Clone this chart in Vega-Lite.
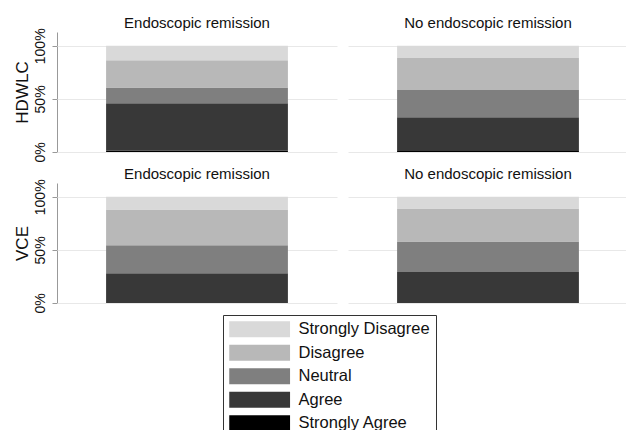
{
  "$schema": "https://vega.github.io/schema/vega-lite/v6.json",
  "background": "white",
  "padding": {"top": 15, "left": 13, "right": 0, "bottom": 0},
  "datasets": {
    "d": [
      {"modality": "HDWLC", "remission": "Endoscopic remission", "response": "Strongly Agree", "o": 1, "pct": 1.3},
      {"modality": "HDWLC", "remission": "Endoscopic remission", "response": "Agree", "o": 2, "pct": 44.6},
      {"modality": "HDWLC", "remission": "Endoscopic remission", "response": "Neutral", "o": 3, "pct": 14.8},
      {"modality": "HDWLC", "remission": "Endoscopic remission", "response": "Disagree", "o": 4, "pct": 25.8},
      {"modality": "HDWLC", "remission": "Endoscopic remission", "response": "Strongly Disagree", "o": 5, "pct": 13.5},
      {"modality": "HDWLC", "remission": "No endoscopic remission", "response": "Strongly Agree", "o": 1, "pct": 0.9},
      {"modality": "HDWLC", "remission": "No endoscopic remission", "response": "Agree", "o": 2, "pct": 31.8},
      {"modality": "HDWLC", "remission": "No endoscopic remission", "response": "Neutral", "o": 3, "pct": 25.8},
      {"modality": "HDWLC", "remission": "No endoscopic remission", "response": "Disagree", "o": 4, "pct": 29.9},
      {"modality": "HDWLC", "remission": "No endoscopic remission", "response": "Strongly Disagree", "o": 5, "pct": 11.6},
      {"modality": "VCE", "remission": "Endoscopic remission", "response": "Strongly Agree", "o": 1, "pct": 0},
      {"modality": "VCE", "remission": "Endoscopic remission", "response": "Agree", "o": 2, "pct": 27.9},
      {"modality": "VCE", "remission": "Endoscopic remission", "response": "Neutral", "o": 3, "pct": 26.4},
      {"modality": "VCE", "remission": "Endoscopic remission", "response": "Disagree", "o": 4, "pct": 33.7},
      {"modality": "VCE", "remission": "Endoscopic remission", "response": "Strongly Disagree", "o": 5, "pct": 12.0},
      {"modality": "VCE", "remission": "No endoscopic remission", "response": "Strongly Agree", "o": 1, "pct": 0},
      {"modality": "VCE", "remission": "No endoscopic remission", "response": "Agree", "o": 2, "pct": 29.2},
      {"modality": "VCE", "remission": "No endoscopic remission", "response": "Neutral", "o": 3, "pct": 28.6},
      {"modality": "VCE", "remission": "No endoscopic remission", "response": "Disagree", "o": 4, "pct": 31.2},
      {"modality": "VCE", "remission": "No endoscopic remission", "response": "Strongly Disagree", "o": 5, "pct": 11.0}
    ]
  },
  "vconcat": [
    {
      "data": {"name": "d"},
      "transform": [{"filter": "datum.modality == 'HDWLC'"}],
      "facet": {"column": {"field": "remission", "type": "nominal", "title": null}},
      "spacing": 11,
      "spec": {
        "width": 280,
        "height": 120,
        "mark": {"type": "bar"},
        "encoding": {
          "x": {"field": "modality", "type": "nominal", "axis": null, "scale": {"paddingInner": 0, "paddingOuter": 0.27}},
          "y": {"field": "pct", "type": "quantitative", "stack": "normalize", "scale": {"domain": [0, 1.13], "nice": false},
                "axis": {"title": "HDWLC", "values": [0, 0.5, 1], "format": ".0%"}},
          "color": {"field": "response", "type": "nominal", "title": null,
                    "scale": {"domain": ["Strongly Disagree", "Disagree", "Neutral", "Agree", "Strongly Agree"],
                              "range": ["#d9d9d9", "#b8b8b8", "#7f7f7f", "#383838", "#000000"]}},
          "order": {"field": "o", "type": "quantitative"}
        }
      }
    },
    {
      "data": {"name": "d"},
      "transform": [{"filter": "datum.modality == 'VCE'"}],
      "facet": {"column": {"field": "remission", "type": "nominal", "title": null}},
      "spacing": 11,
      "spec": {
        "width": 280,
        "height": 120,
        "mark": {"type": "bar"},
        "encoding": {
          "x": {"field": "modality", "type": "nominal", "axis": null, "scale": {"paddingInner": 0, "paddingOuter": 0.27}},
          "y": {"field": "pct", "type": "quantitative", "stack": "normalize", "scale": {"domain": [0, 1.13], "nice": false},
                "axis": {"title": "VCE", "values": [0, 0.5, 1], "format": ".0%"}},
          "color": {"field": "response", "type": "nominal", "title": null,
                    "scale": {"domain": ["Strongly Disagree", "Disagree", "Neutral", "Agree", "Strongly Agree"],
                              "range": ["#d9d9d9", "#b8b8b8", "#7f7f7f", "#383838", "#000000"]}},
          "order": {"field": "o", "type": "quantitative"}
        }
      }
    }
  ],
  "spacing": 3,
  "resolve": {"scale": {"color": "shared"}},
  "config": {
    "font": "Liberation Sans",
    "view": {"stroke": null},
    "header": {"labelFontSize": 15, "labelColor": "#111", "labelPadding": 1.5, "labelFont": "Liberation Sans"},
    "axis": {
      "domainColor": "#999",
      "tickColor": "#999",
      "tickSize": 5,
      "gridColor": "#e8e8e8",
      "labelAngle": -90,
      "labelFontSize": 14,
      "labelColor": "#111",
      "labelPadding": 5,
      "titleFontSize": 17,
      "titleFontWeight": "normal",
      "titleColor": "#111",
      "titlePadding": 2
    },
    "legend": {
      "orient": "none",
      "legendX": 166,
      "legendY": 283,
      "direction": "vertical",
      "strokeColor": "#333",
      "fillColor": "white",
      "padding": 6,
      "symbolType": "M-1,-1H6.6V1H-1Z",
      "symbolSize": 256,
      "symbolStrokeWidth": 0,
      "symbolOpacity": 1,
      "labelFontSize": 16.5,
      "labelColor": "#111",
      "labelOffset": 53,
      "rowPadding": 6.5
    }
  }
}
